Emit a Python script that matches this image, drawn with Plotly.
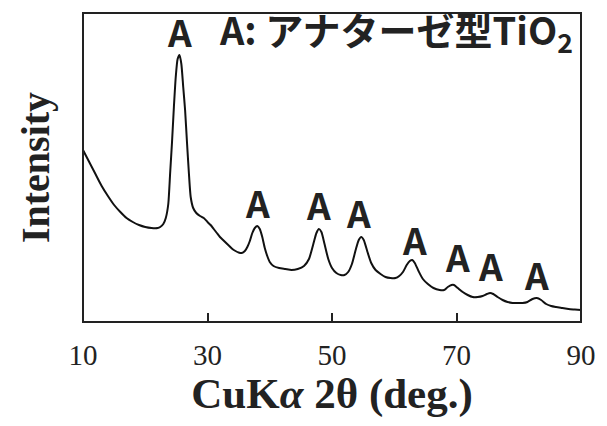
import plotly.graph_objects as go

# 2θ (deg) and intensity (arbitrary units)
two_theta = [10.0, 11.0, 12.0, 13.0, 14.0, 15.0, 16.0, 17.0, 18.0, 19.0, 20.0, 21.0, 22.0,
             22.4, 22.9, 23.3, 23.7, 24.0, 24.3, 24.6, 24.9, 25.2, 25.5, 25.8, 26.1, 26.4,
             26.7, 27.0, 27.3, 27.7, 28.2, 28.8, 29.4, 30.0, 30.5, 31.0, 31.5, 32.0, 32.5,
             33.0, 33.5, 34.0, 34.5, 35.0, 35.5, 36.0, 36.4, 36.8, 37.2, 37.6, 38.0, 38.4,
             38.8, 39.2, 39.6, 40.0, 40.6, 41.5, 42.5, 43.5, 44.5, 45.5, 46.3, 47.0, 47.5,
             47.9, 48.3, 48.8, 49.4, 50.0, 50.7, 51.4, 52.0, 52.6, 53.2, 53.8, 54.3, 54.7,
             55.1, 55.7, 56.3, 57.0, 57.8, 58.6, 59.4, 60.2, 60.8, 61.4, 62.0, 62.5, 62.9,
             63.3, 63.9, 64.6, 65.4, 66.3, 67.3, 68.0, 68.6, 69.2, 69.6, 70.2, 71.0, 71.8,
             72.6, 73.4, 74.2, 74.9, 75.4, 75.9, 76.6, 77.4, 78.2, 79.0, 79.8, 80.6, 81.4,
             82.2, 82.9, 83.6, 84.4, 85.2, 86.0, 87.0, 88.0, 89.0, 90.0]
intensity = [172, 160, 148, 136, 126, 117, 110, 104, 100, 97, 95, 94, 94,
             95, 98, 104, 118, 149, 180, 215, 245, 263, 267, 258, 235, 212,
             180, 150, 125, 114, 109, 106, 104, 100, 97, 93, 89, 85, 82,
             79, 76, 73, 71, 69.5, 69, 71, 75, 81, 89, 94, 96, 93,
             85, 74, 66, 60, 56, 54, 53, 52, 53, 56, 63, 78, 89,
             93, 90, 78, 63, 54, 49, 47, 47, 50, 58, 72, 82, 85,
             82, 70, 59, 52, 48, 45, 44, 44, 46, 50, 57, 61, 62,
             59, 51, 43, 38, 34, 32, 32, 35, 37, 37, 34, 30, 27,
             25, 25, 26, 28, 29, 28, 25, 22, 20, 19, 19, 19, 20,
             23, 24, 22, 18, 16, 15, 14, 13, 12.5, 12]

# anatase peak markers
peak_positions = [25.5, 38.0, 47.9, 54.3, 63.2, 70.2, 75.4, 82.9]
label_heights = [291, 120, 118, 110, 83, 66, 57, 48]
peak_label = "A"
legend_text = "A: アナターゼ型TiO<sub>2</sub>"
legend_pos = (31.5, 291)

x_ticks = [10, 30, 50, 70, 90]

fig = go.Figure()
fig.add_trace(go.Scatter(x=two_theta, y=intensity, mode="lines",
                         line=dict(color="#111111", width=2, shape="spline", smoothing=0.6),
                         showlegend=False, hoverinfo="skip"))

sans = "Noto Sans CJK JP"
for px, py in zip(peak_positions, label_heights):
    fig.add_annotation(x=px, y=py, text=peak_label, showarrow=False,
                       font=dict(family=sans, size=37, color="#222222", weight="bold"),
                       xanchor="center", yanchor="middle")
fig.add_annotation(x=legend_pos[0], y=legend_pos[1], text=legend_text, showarrow=False,
                   font=dict(family=sans, size=38, color="#222222", weight="bold"),
                   xanchor="left", yanchor="middle")

# frame drawn as a rectangle around the plotting area
fig.add_shape(type="rect", xref="paper", yref="paper", x0=0, x1=1, y0=0, y1=1,
              line=dict(color="#222222", width=2), layer="above")

serif = "Liberation Serif"
# the page body has an 8px margin on every side; size the figure so the page does not overflow
fig.update_layout(
    width=591, height=410,
    margin=dict(l=75, r=18, t=5, b=96, autoexpand=False),
    paper_bgcolor="white", plot_bgcolor="white",
    xaxis=dict(range=[10, 90], tickvals=x_ticks, ticktext=[str(t) for t in x_ticks],
               ticks="inside", ticklen=9, tickwidth=1.5, tickcolor="#222222",
               showline=False, mirror=False,
               showgrid=False, zeroline=False, ticklabelstandoff=13, automargin=False,
               tickfont=dict(family=serif, size=29, color="#222222"),
               title=dict(text="<b>CuK<i>α</i> 2θ (deg.)</b>", standoff=3,
                          font=dict(family=serif, size=43, color="#222222"))),
    yaxis=dict(range=[0, 309], showticklabels=False, ticks="",
               showline=False, mirror=False,
               showgrid=False, zeroline=False, automargin=False,
               title=dict(text="<b>Intensity</b>", standoff=20,
                          font=dict(family=serif, size=40, color="#222222"))),
)

fig.write_html("out.html")
